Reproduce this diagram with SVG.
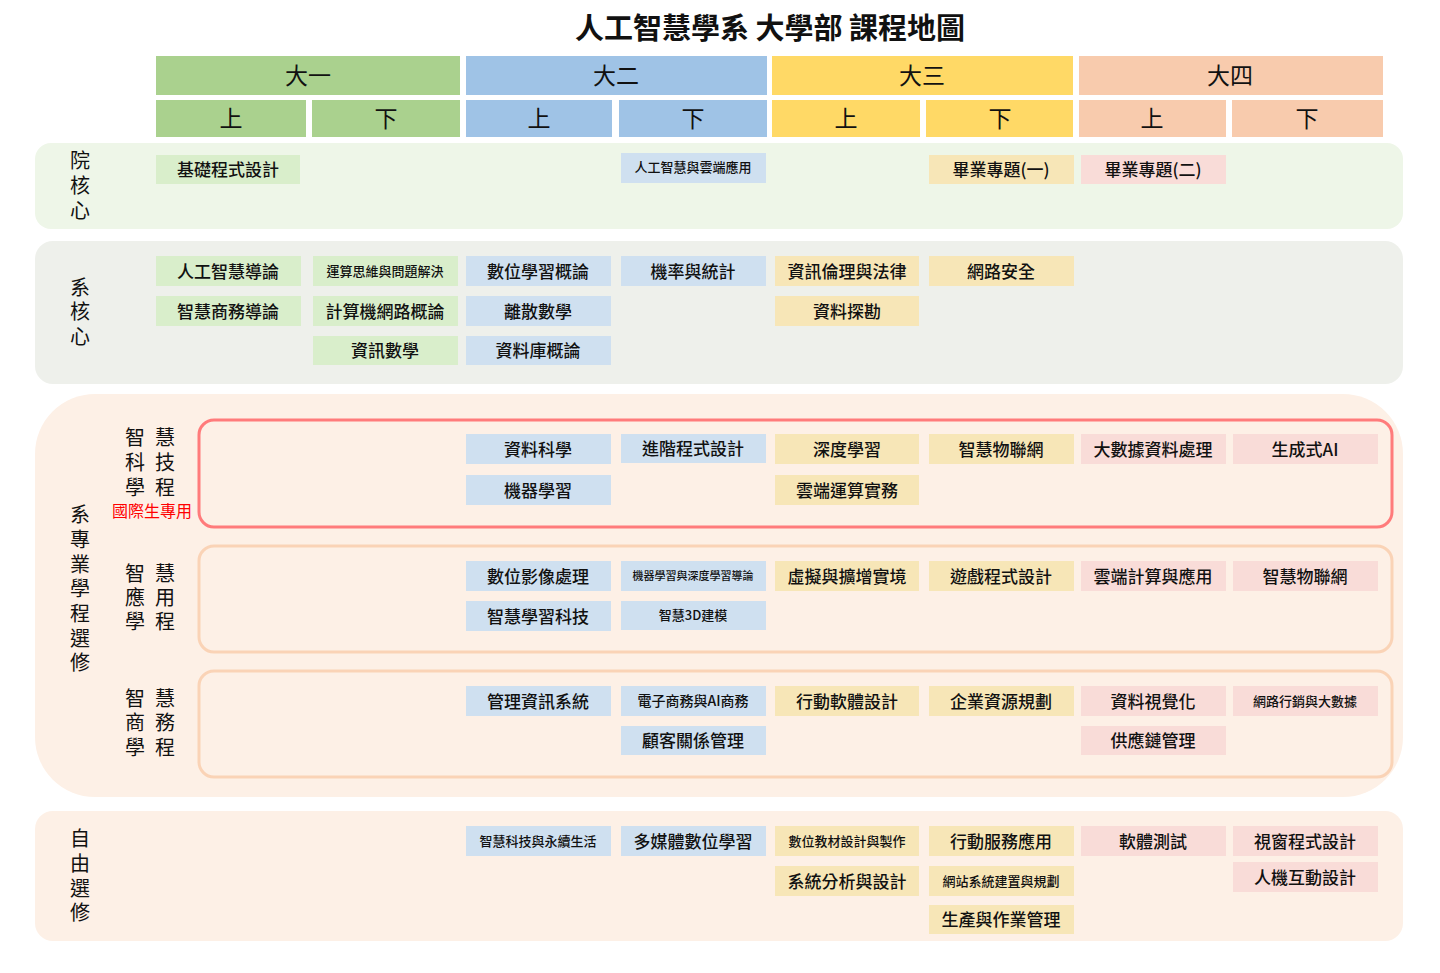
<svg xmlns="http://www.w3.org/2000/svg" width="1440" height="973" viewBox="0 0 1440 973">
<style>
text{font-family:"Noto Sans CJK TC","Noto Sans CJK SC",sans-serif;fill:#111}
.c{text-anchor:middle;dominant-baseline:central;font-size:17px;font-weight:500}
.s{font-size:13px}
.xs{font-size:11px}
.h{text-anchor:middle;dominant-baseline:central;font-size:23px}
.v{text-anchor:middle;dominant-baseline:central;font-size:20px}
.g{fill:#d9eecb}.b{fill:#cfe0f0}.y{fill:#f7e6b7}.p{fill:#f9dcd8}
</style>
<rect width="1440" height="973" fill="#fff"/>
<text x="770" y="26" class="h" style="font-size:29px;font-weight:700">人工智慧學系 大學部 課程地圖</text>
<g id="header">
<rect x="156" y="56" width="304" height="39" fill="#aad18e"/>
<rect x="466" y="56" width="301" height="39" fill="#9fc3e6"/>
<rect x="772" y="56" width="301" height="39" fill="#ffd966"/>
<rect x="1079" y="56" width="304" height="39" fill="#f8cbad"/>
<text x="308" y="74" class="h">大一</text><text x="616" y="74" class="h">大二</text><text x="922" y="74" class="h">大三</text><text x="1230" y="74" class="h">大四</text>
<rect x="156" y="100" width="150" height="37" fill="#aad18e"/><rect x="312" y="100" width="148" height="37" fill="#aad18e"/>
<rect x="466" y="100" width="146" height="37" fill="#9fc3e6"/><rect x="619" y="100" width="148" height="37" fill="#9fc3e6"/>
<rect x="772" y="100" width="148" height="37" fill="#ffd966"/><rect x="926" y="100" width="147" height="37" fill="#ffd966"/>
<rect x="1079" y="100" width="147" height="37" fill="#f8cbad"/><rect x="1232" y="100" width="151" height="37" fill="#f8cbad"/>
<text x="231" y="117" class="h">上</text><text x="386" y="117" class="h">下</text><text x="539" y="117" class="h">上</text><text x="693" y="117" class="h">下</text>
<text x="846" y="117" class="h">上</text><text x="1000" y="117" class="h">下</text><text x="1152" y="117" class="h">上</text><text x="1307" y="117" class="h">下</text>
</g>
<g id="sections">
<rect x="35" y="143" width="1368" height="86" rx="16" fill="#eef6e8"/>
<rect x="35" y="241" width="1368" height="143" rx="18" fill="#eef0eb"/>
<rect x="35" y="394" width="1368" height="403" rx="60" fill="#fdf0e6"/>
<rect x="35" y="811" width="1368" height="130" rx="18" fill="#fdf0e6"/>
<rect x="199" y="420" width="1193" height="107" rx="15" fill="none" stroke="#ff7b7b" stroke-width="3"/>
<rect x="199" y="546" width="1193" height="106" rx="15" fill="none" stroke="#fad3b6" stroke-width="3"/>
<rect x="199" y="671" width="1193" height="106" rx="15" fill="none" stroke="#fad3b6" stroke-width="3"/>
</g>
<g id="labels">
<text class="v"><tspan x="80" y="159">院</tspan><tspan x="80" y="184">核</tspan><tspan x="80" y="209">心</tspan></text>
<text class="v"><tspan x="80" y="286">系</tspan><tspan x="80" y="310">核</tspan><tspan x="80" y="335">心</tspan></text>
<text class="v"><tspan x="80" y="513">系</tspan><tspan x="80" y="538">專</tspan><tspan x="80" y="563">業</tspan><tspan x="80" y="587">學</tspan><tspan x="80" y="612">程</tspan><tspan x="80" y="637">選</tspan><tspan x="80" y="661">修</tspan></text>
<text class="v"><tspan x="80" y="837">自</tspan><tspan x="80" y="862">由</tspan><tspan x="80" y="887">選</tspan><tspan x="80" y="911">修</tspan></text>
<text class="v"><tspan x="135" y="436">智</tspan><tspan x="135" y="461">科</tspan><tspan x="135" y="486">學</tspan><tspan x="165" y="436">慧</tspan><tspan x="165" y="461">技</tspan><tspan x="165" y="486">程</tspan></text>
<text x="152" y="510" class="c" style="fill:#f00;font-size:16px;font-weight:400">國際生專用</text>
<text class="v"><tspan x="135" y="572">智</tspan><tspan x="135" y="596">應</tspan><tspan x="135" y="620">學</tspan><tspan x="165" y="572">慧</tspan><tspan x="165" y="596">用</tspan><tspan x="165" y="620">程</tspan></text>
<text class="v"><tspan x="135" y="697">智</tspan><tspan x="135" y="721">商</tspan><tspan x="135" y="746">學</tspan><tspan x="165" y="697">慧</tspan><tspan x="165" y="721">務</tspan><tspan x="165" y="746">程</tspan></text>
</g>
<g id="courses">
<rect x="156" y="155" width="144" height="29" class="g"/><text x="228" y="168" class="c">基礎程式設計</text>
<rect x="621" y="153" width="145" height="30" class="b"/><text x="693" y="166" class="c s">人工智慧與雲端應用</text>
<rect x="929" y="155" width="145" height="29" class="y"/><text x="1001" y="168" class="c">畢業專題(一)</text>
<rect x="1081" y="155" width="145" height="29" class="p"/><text x="1153" y="168" class="c">畢業專題(二)</text>

<rect x="156" y="256" width="145" height="30" class="g"/><text x="228" y="270" class="c">人工智慧導論</text>
<rect x="313" y="256" width="145" height="30" class="g"/><text x="385" y="270" class="c s">運算思維與問題解決</text>
<rect x="466" y="256" width="145" height="30" class="b"/><text x="538" y="270" class="c">數位學習概論</text>
<rect x="621" y="256" width="145" height="30" class="b"/><text x="693" y="270" class="c">機率與統計</text>
<rect x="775" y="256" width="144" height="30" class="y"/><text x="847" y="270" class="c">資訊倫理與法律</text>
<rect x="929" y="256" width="145" height="30" class="y"/><text x="1001" y="270" class="c">網路安全</text>
<rect x="156" y="296" width="145" height="30" class="g"/><text x="228" y="310" class="c">智慧商務導論</text>
<rect x="313" y="296" width="145" height="30" class="g"/><text x="385" y="310" class="c">計算機網路概論</text>
<rect x="466" y="296" width="145" height="30" class="b"/><text x="538" y="310" class="c">離散數學</text>
<rect x="775" y="296" width="144" height="30" class="y"/><text x="847" y="310" class="c">資料探勘</text>
<rect x="313" y="336" width="145" height="29" class="g"/><text x="385" y="349" class="c">資訊數學</text>
<rect x="466" y="336" width="145" height="29" class="b"/><text x="538" y="349" class="c">資料庫概論</text>

<rect x="466" y="434" width="145" height="30" class="b"/><text x="538" y="448" class="c">資料科學</text>
<rect x="621" y="434" width="145" height="29" class="b"/><text x="693" y="447" class="c">進階程式設計</text>
<rect x="775" y="434" width="144" height="30" class="y"/><text x="847" y="448" class="c">深度學習</text>
<rect x="929" y="434" width="145" height="30" class="y"/><text x="1001" y="448" class="c">智慧物聯網</text>
<rect x="1081" y="434" width="145" height="30" class="p"/><text x="1153" y="448" class="c">大數據資料處理</text>
<rect x="1233" y="434" width="145" height="30" class="p"/><text x="1305" y="448" class="c">生成式AI</text>
<rect x="466" y="475" width="145" height="30" class="b"/><text x="538" y="489" class="c">機器學習</text>
<rect x="775" y="475" width="144" height="30" class="y"/><text x="847" y="489" class="c">雲端運算實務</text>

<rect x="466" y="561" width="145" height="30" class="b"/><text x="538" y="575" class="c">數位影像處理</text>
<rect x="621" y="561" width="145" height="30" class="b"/><text x="693" y="575" class="c xs">機器學習與深度學習導論</text>
<rect x="775" y="561" width="144" height="30" class="y"/><text x="847" y="575" class="c">虛擬與擴增實境</text>
<rect x="929" y="561" width="145" height="30" class="y"/><text x="1001" y="575" class="c">遊戲程式設計</text>
<rect x="1081" y="561" width="145" height="30" class="p"/><text x="1153" y="575" class="c">雲端計算與應用</text>
<rect x="1233" y="561" width="145" height="30" class="p"/><text x="1305" y="575" class="c">智慧物聯網</text>
<rect x="466" y="601" width="145" height="30" class="b"/><text x="538" y="615" class="c">智慧學習科技</text>
<rect x="621" y="601" width="145" height="29" class="b"/><text x="693" y="614" class="c s">智慧3D建模</text>

<rect x="466" y="686" width="145" height="30" class="b"/><text x="538" y="700" class="c">管理資訊系統</text>
<rect x="621" y="686" width="145" height="30" class="b"/><text x="693" y="700" class="c s" style="font-size:14px">電子商務與AI商務</text>
<rect x="775" y="686" width="144" height="30" class="y"/><text x="847" y="700" class="c">行動軟體設計</text>
<rect x="929" y="686" width="145" height="30" class="y"/><text x="1001" y="700" class="c">企業資源規劃</text>
<rect x="1081" y="686" width="145" height="30" class="p"/><text x="1153" y="700" class="c">資料視覺化</text>
<rect x="1233" y="686" width="145" height="30" class="p"/><text x="1305" y="700" class="c s">網路行銷與大數據</text>
<rect x="621" y="726" width="145" height="29" class="b"/><text x="693" y="739" class="c">顧客關係管理</text>
<rect x="1081" y="726" width="145" height="29" class="p"/><text x="1153" y="739" class="c">供應鏈管理</text>

<rect x="466" y="826" width="145" height="30" class="b"/><text x="538" y="840" class="c s">智慧科技與永續生活</text>
<rect x="621" y="826" width="145" height="30" class="b"/><text x="693" y="840" class="c">多媒體數位學習</text>
<rect x="775" y="826" width="144" height="30" class="y"/><text x="847" y="840" class="c s">數位教材設計與製作</text>
<rect x="929" y="826" width="145" height="30" class="y"/><text x="1001" y="840" class="c">行動服務應用</text>
<rect x="1081" y="826" width="145" height="30" class="p"/><text x="1153" y="840" class="c">軟體測試</text>
<rect x="1233" y="826" width="145" height="30" class="p"/><text x="1305" y="840" class="c">視窗程式設計</text>
<rect x="775" y="866" width="144" height="30" class="y"/><text x="847" y="880" class="c">系統分析與設計</text>
<rect x="929" y="866" width="145" height="30" class="y"/><text x="1001" y="880" class="c s">網站系統建置與規劃</text>
<rect x="1233" y="862" width="145" height="30" class="p"/><text x="1305" y="876" class="c">人機互動設計</text>
<rect x="929" y="905" width="145" height="29" class="y"/><text x="1001" y="918" class="c">生產與作業管理</text>
</g>
<g id="connectors"/>
</svg>
